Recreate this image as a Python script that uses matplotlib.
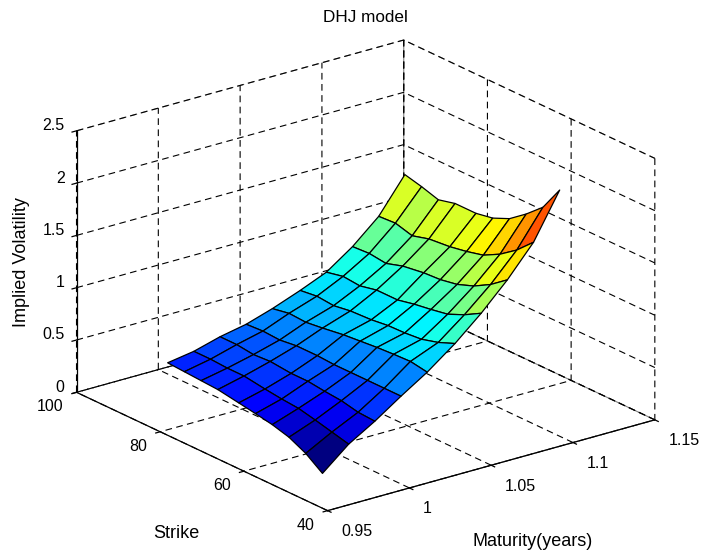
import numpy as np
import matplotlib
matplotlib.use('Agg')
import matplotlib.pyplot as plt
from matplotlib.colors import LinearSegmentedColormap

strikes = [51, 55, 59, 63, 67, 71, 76, 80, 84, 88]
maturities = [0.975, 0.991, 1.007, 1.023, 1.039, 1.056, 1.072, 1.088, 1.104, 1.12]
# implied vol, one row per maturity, strikes going up
vols = [
    [0.04, 0.156, 0.235, 0.28, 0.31, 0.337, 0.37, 0.38, 0.39, 0.40],
    [0.25, 0.29, 0.33, 0.366, 0.38, 0.40, 0.43, 0.43, 0.44, 0.44],
    [0.40, 0.41, 0.445, 0.46, 0.48, 0.48, 0.50, 0.49, 0.51, 0.51],
    [0.57, 0.57, 0.57, 0.57, 0.57, 0.58, 0.58, 0.56, 0.57, 0.56],
    [0.73, 0.757, 0.75, 0.74, 0.725, 0.71, 0.68, 0.66, 0.67, 0.64],
    [0.93, 0.865, 0.82, 0.805, 0.80, 0.78, 0.77, 0.745, 0.76, 0.74],
    [1.15, 1.06, 0.99, 0.96, 0.935, 0.90, 0.90, 0.865, 0.88, 0.845],
    [1.40, 1.28, 1.19, 1.13, 1.10, 1.09, 1.06, 1.01, 1.03, 1.02],
    [1.69, 1.54, 1.425, 1.34, 1.30, 1.27, 1.25, 1.205, 1.25, 1.24],
    [2.12, 1.88, 1.74, 1.62, 1.55, 1.52, 1.52, 1.48, 1.53, 1.57],
]
x_ticks = [0.95, 1, 1.05, 1.1, 1.15]
x_labels = ['0.95', '1', '1.05', '1.1', '1.15']
y_ticks = [40, 60, 80, 100]
z_ticks = [0, 0.5, 1, 1.5, 2, 2.5]
z_labels = ['0', '0.5', '1', '1.5', '2', '2.5']

plt.rcParams['font.family'] = ['Liberation Sans', 'DejaVu Sans']

# matlab flavour of jet, the matplotlib one has its knots a bit elsewhere
matlab_jet = LinearSegmentedColormap.from_list('matlab_jet', [
    (0, (0, 0, 0.5)), (0.125, (0, 0, 1)), (0.375, (0, 1, 1)),
    (0.625, (1, 1, 0)), (0.875, (1, 0, 0)), (1, (0.5, 0, 0))], N=64)

T, K = np.meshgrid(maturities, strikes, indexing='ij')
Z = np.array(vols)
colors = matlab_jet((Z - Z.min()) / (Z.max() - Z.min()))

fig = plt.figure(figsize=(7.02, 5.55), dpi=100)
size = 560
cx, cy = 366.5 - 8.4, 274.5 + 8.4
ax = fig.add_axes([(cx - size / 2) / 702, (555 - cy - size / 2) / 555, size / 702, size / 555],
                  projection='3d', proj_type='ortho')
ax.view_init(elev=21.2, azim=-127.5)
ax.set_box_aspect((1, 1, 0.68), zoom=1.122)

ax.plot_surface(T, K, Z, facecolors=colors, rstride=1, cstride=1, shade=False,
                edgecolor='k', linewidth=0.9, antialiased=True)

ax.set_xlim(0.95, 1.15, view_margin=0)
ax.set_ylim(40, 100, view_margin=0)
ax.set_zlim(0, 2.5, view_margin=0)
ax.set_xticks(x_ticks, x_labels)
ax.set_yticks(y_ticks)
ax.set_zticks(z_ticks, z_labels)
ax.tick_params(labelsize=11.5)
ax.tick_params(axis='y', pad=0.6)
ax.tick_params(axis='z', pad=-3.7)
ax.zaxis.set_ticks_position('upper')

dash = (0, (6, 4))
for axis in (ax.xaxis, ax.yaxis, ax.zaxis):
    axis.pane.set_facecolor('white')
    axis.pane.set_edgecolor('k')
    axis.pane.set_linestyle(dash)
    axis.pane.set_linewidth(0.8)
    axis.line.set_color('k')
    axis.line.set_linewidth(0.9)
    axis._axinfo['grid'].update(color='k', linestyle=dash, linewidth=0.8)
    # sign flipped, with this view the positive side runs into the box
    axis._axinfo['tick'].update(inward_factor=0.0, outward_factor=-0.17, linewidth={True: 0.9, False: 0.5})

for lab in ax.get_xticklabels():
    lab.set_ha('left')
    lab.set_va('center')
for lab in ax.get_yticklabels():
    lab.set_ha('right')
    lab.set_va('center')
for lab in ax.get_zticklabels():
    lab.set_ha('right')
    lab.set_va('baseline')

fig.suptitle('DHJ model', x=365 / 702, y=1 - 17 / 555, fontsize=12.3, va='center')
fig.text(176 / 702, 1 - 533 / 555, 'Strike', fontsize=13, ha='center', va='center')
fig.text(533 / 702, 1 - 542 / 555, 'Maturity(years)', fontsize=13, ha='center', va='center')
fig.text(22 / 702, 1 - 262 / 555, 'Implied Volatility', fontsize=13, rotation=90, ha='center', va='center')

fig.savefig('out.png', dpi=100)
